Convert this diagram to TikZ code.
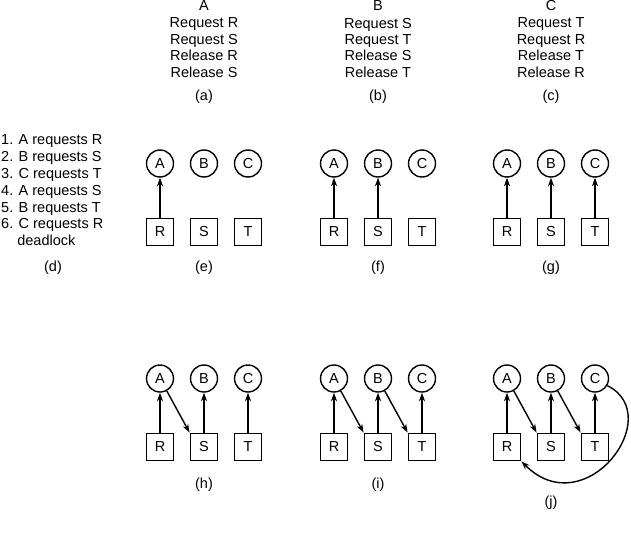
\documentclass[tikz,border=0pt]{standalone}
\usepackage{fontspec}
\setmainfont{Liberation Sans}
\usepackage{tikz}
\usetikzlibrary{arrows,arrows.meta,positioning}
\tikzstyle{proc} = [circle, draw, line width=1.4pt, minimum size=27pt, inner sep=0pt]
\tikzstyle{res} = [rectangle, draw, line width=1.4pt, minimum size=27.5pt, inner sep=0pt]
\tikzstyle{arrow} = [line width=1.4pt, ->, >={Stealth[length=8.5pt,width=6pt]}]
\tikzstyle{txt} = [inner sep=0pt]

\begin{document}
\begin{tikzpicture}[x=1pt, y=-1pt, font=\fontsize{14.5}{16.4}\selectfont, node distance=68.5pt and 44pt, on grid]
\useasboundingbox (0,0) rectangle (631,543);
% Programs of the three processes
\node (hA) [txt] at (204,6) {A};
\node (pA) [txt, anchor=north, align=center] at (204,17.8) {Request R\\Request S\\Release R\\Release S};
\node (la) [txt] at (204,97) {(a)};
\node (hB) [txt] at (378,6) {B};
\node (pB) [txt, anchor=north, align=center] at (378,17.8) {Request S\\Request T\\Release S\\Release T};
\node (lb) [txt] at (378,97) {(b)};
\node (hC) [txt] at (551,6) {C};
\node (pC) [txt, anchor=north, align=center] at (551,17.8) {Request T\\Request R\\Release T\\Release R};
\node (lc) [txt] at (551,97) {(c)};

% Order of the requests
\node (order) [txt, anchor=north west, align=left, font=\fontsize{14.5}{16.8}\selectfont] at (1,134.8) {1. A requests R\\2. B requests S\\3. C requests T\\4. A requests S\\5. B requests T\\6. C requests R\\\phantom{1.\ }deadlock};
\node (ld) [txt] at (53,268) {(d)};

% Resource graphs
\foreach \p/\x/\y/\d in {e/160/163.5/36pt, f/334/163.5/36pt, g/507/163.5/36pt, h/160/378.5/38pt, i/334/378.5/38pt, j/507/378.5/56pt} {
  \node (A\p) [proc] at (\x,\y) {A};
  \node (B\p) [proc, right=of A\p] {B};
  \node (C\p) [proc, right=of B\p] {C};
  \node (R\p) [res, below=of A\p] {R};
  \node (S\p) [res, below=of B\p] {S};
  \node (T\p) [res, below=of C\p] {T};
  \node (l\p) [txt, below=\d of S\p] {(\p)};
}

% Resources held
\foreach \p in {e,f,g,h,i,j} \draw[arrow] (R\p) -- (A\p);
\foreach \p in {f,g,h,i,j} \draw[arrow] (S\p) -- (B\p);
\foreach \p in {g,h,i,j} \draw[arrow] (T\p) -- (C\p);
% Resources requested
\foreach \p in {h,i,j} \draw[arrow] (A\p) -- (S\p.north west);
\foreach \p in {i,j} \draw[arrow] (B\p) -- (T\p.north west);
\draw[arrow] (Cj.-30) .. controls +(60,30) and +(64,64) .. (Rj.south east);
\end{tikzpicture}
\end{document}
